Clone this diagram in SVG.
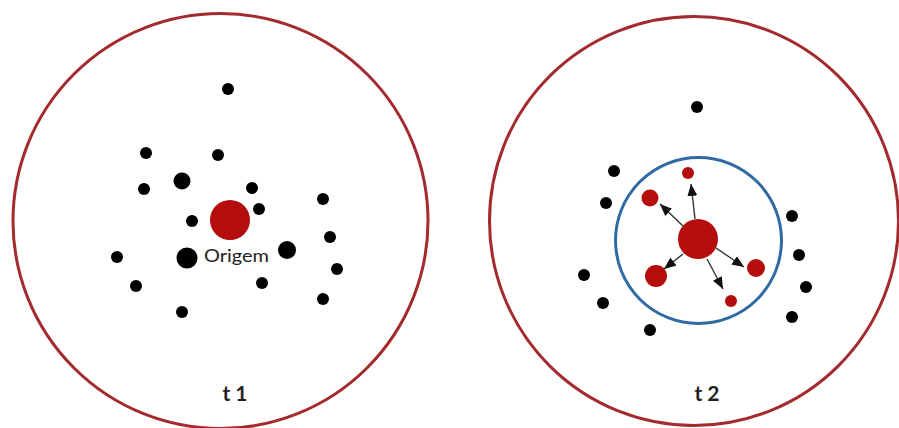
<svg xmlns="http://www.w3.org/2000/svg" width="899" height="428" viewBox="0 0 899 428">
<defs>
<marker id="ah" viewBox="0 0 12 10" refX="12" refY="5" markerWidth="12" markerHeight="10" markerUnits="userSpaceOnUse" orient="auto">
<path d="M0,0 L12,5 L0,10 z" fill="#111"/>
</marker>
<style>
.frame{fill:none;stroke:#a32a2e;stroke-width:3}
.blue{fill:none;stroke:#2f6aa3;stroke-width:3}
.dot{fill:#000}
.red{fill:#b50d0d}
.lbl{font-family:Lato,"Liberation Sans",sans-serif;fill:#222}
.arr{stroke:#333;stroke-width:1.4;fill:none;marker-end:url(#ah)}
</style>
</defs>
<rect width="899" height="428" fill="#fff"/>
<g id="panel-t1">
<circle class="frame" cx="220.5" cy="221" r="207.5"/>
<g id="t1-dots">
<circle class="dot" cx="228" cy="89" r="6"/>
<circle class="dot" cx="146" cy="153" r="6"/>
<circle class="dot" cx="218" cy="155" r="6"/>
<circle class="dot" cx="182" cy="181" r="8.5"/>
<circle class="dot" cx="144" cy="189" r="6"/>
<circle class="dot" cx="252" cy="188" r="6"/>
<circle class="dot" cx="323" cy="199" r="6"/>
<circle class="dot" cx="259" cy="209" r="6"/>
<circle class="dot" cx="192" cy="221" r="6"/>
<circle class="dot" cx="330" cy="237" r="6"/>
<circle class="dot" cx="117" cy="257" r="6"/>
<circle class="dot" cx="187" cy="258" r="10.5"/>
<circle class="dot" cx="287" cy="250" r="9"/>
<circle class="dot" cx="337" cy="269" r="6"/>
<circle class="dot" cx="136" cy="286" r="6"/>
<circle class="dot" cx="262" cy="283" r="6"/>
<circle class="dot" cx="323" cy="299" r="6"/>
<circle class="dot" cx="182" cy="312" r="6"/>
</g>
<g id="origem">
<circle class="red" cx="230" cy="220" r="20"/>
<text class="lbl" x="204" y="262" font-size="18" textLength="65" lengthAdjust="spacingAndGlyphs" fill="#333">Origem</text>
</g>
<text class="lbl" x="235" y="401" font-size="21" font-weight="bold" text-anchor="middle">t 1</text>
</g>
<g id="panel-t2">
<circle class="frame" cx="694" cy="221" r="204.5"/>
<g id="t2-dots">
<circle class="dot" cx="697" cy="107" r="6"/>
<circle class="dot" cx="614" cy="171" r="6"/>
<circle class="dot" cx="606" cy="203" r="6"/>
<circle class="dot" cx="792" cy="216" r="6"/>
<circle class="dot" cx="799" cy="255" r="6"/>
<circle class="dot" cx="806" cy="287" r="6"/>
<circle class="dot" cx="792" cy="317" r="6"/>
<circle class="dot" cx="584" cy="275" r="6"/>
<circle class="dot" cx="603" cy="303" r="6"/>
<circle class="dot" cx="650" cy="330" r="6"/>
</g>
<circle id="range" class="blue" cx="698.5" cy="240.5" r="83"/>
<g id="t2-origin"><circle class="red" cx="698" cy="239" r="20"/></g>
<g id="r1"><circle class="red" cx="688" cy="173" r="6"/></g>
<g id="r2"><circle class="red" cx="650" cy="198" r="8.5"/></g>
<g id="r3"><circle class="red" cx="656" cy="276" r="11"/></g>
<g id="r4"><circle class="red" cx="756" cy="268" r="9"/></g>
<g id="r5"><circle class="red" cx="731" cy="301" r="6"/></g>
<g id="connectors">
<line class="arr" x1="695" y1="219" x2="691" y2="184"/>
<line class="arr" x1="683" y1="226" x2="660" y2="204"/>
<line class="arr" x1="683" y1="254" x2="664" y2="269"/>
<line class="arr" x1="716" y1="248" x2="744" y2="267"/>
<line class="arr" x1="707" y1="259" x2="723" y2="289"/>
</g>
<text class="lbl" x="707" y="401" font-size="21" font-weight="bold" text-anchor="middle">t 2</text>
</g>
</svg>
